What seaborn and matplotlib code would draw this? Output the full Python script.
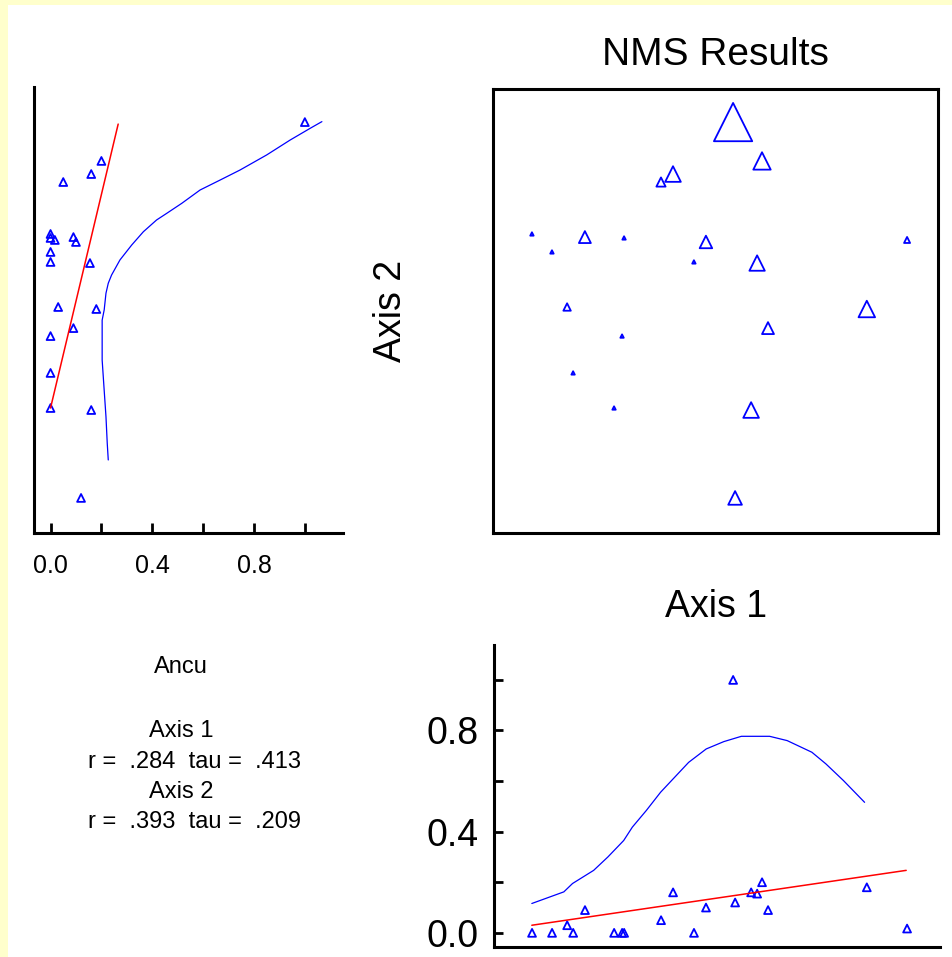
import numpy as np
import pandas as pd
import matplotlib
matplotlib.use("Agg")
import matplotlib.pyplot as plt
import seaborn as sns
from matplotlib.patches import Rectangle

# NMS scores (axis 1, axis 2) and Ancu abundance per sample unit
axis1 = [0.079, 0.209, -0.191, -0.245, -0.825, -0.587, -0.411, -0.043, 0.861, -0.735,
         -0.097, 0.187, 0.680, -0.667, 0.236, -0.420, -0.640, -0.456, 0.160, 0.088]
axis2 = [0.851, 0.676, 0.617, 0.581, 0.347, 0.333, 0.329, 0.311, 0.320, 0.266,
         0.221, 0.216, 0.009, 0.018, -0.077, -0.113, -0.279, -0.437, -0.446, -0.842]
ancu = [1.0, 0.20, 0.16, 0.05, 0.0, 0.09, 0.0, 0.10, 0.017, 0.0,
        0.0, 0.155, 0.18, 0.03, 0.09, 0.0, 0.0, 0.0, 0.16, 0.12]

# smoothed response of Ancu along axis 2 (left panel)
smooth2_axis2 = [-0.671, -0.596, -0.476, -0.341, -0.221, -0.041, 0.005, 0.080, 0.125, 0.162,
                 0.230, 0.297, 0.357, 0.410, 0.440, 0.485, 0.545, 0.590, 0.635, 0.703,
                 0.770, 0.823, 0.853]
smooth2_ancu = [0.227, 0.223, 0.218, 0.210, 0.203, 0.203, 0.211, 0.218, 0.227, 0.240,
                0.273, 0.319, 0.365, 0.417, 0.457, 0.516, 0.588, 0.667, 0.745, 0.850,
                0.942, 1.021, 1.067]
# linear fit of Ancu on axis 2
lin2_axis2 = [-0.437, 0.842]
lin2_ancu = [0.0, 0.266]

# smoothed response of Ancu along axis 1 (bottom panel)
smooth1_axis1 = [-0.826, -0.754, -0.682, -0.643, -0.548, -0.484, -0.413, -0.374, -0.311, -0.247,
                 -0.184, -0.121, -0.042, 0.037, 0.116, 0.243, 0.322, 0.433, 0.496, 0.575, 0.670]
smooth1_ancu = [0.116, 0.139, 0.162, 0.195, 0.247, 0.300, 0.365, 0.418, 0.484, 0.556,
                0.615, 0.674, 0.727, 0.756, 0.777, 0.777, 0.760, 0.714, 0.668, 0.602, 0.516]
lin1_axis1 = [-0.826, 0.857]
lin1_ancu = [0.03, 0.247]

tick_vals = [0.0, 0.2, 0.4, 0.6, 0.8, 1.0]
tick_text = ["0.0", "", "0.4", "", "0.8", ""]

sns.set_style("white")
plt.rcParams["font.family"] = ["Liberation Sans", "DejaVu Sans"]
plt.rcParams["text.color"] = "black"
plt.rcParams["xtick.color"] = "black"
plt.rcParams["ytick.color"] = "black"

W, H = 952, 957
fig = plt.figure(figsize=(W / 100, H / 100), dpi=100)
fig.patch.set_facecolor("#FFFFCC")
fig.patches.append(Rectangle((8 / W, 0), 1 - 8 / W, 1 - 5 / H, transform=fig.transFigure,
                             facecolor="white", edgecolor="none", zorder=-1))

def box(l, t, r, b):
    return [l / W, 1 - b / H, (r - l) / W, (b - t) / H]

tri = dict(marker="^", facecolor="none", edgecolor="blue", linewidth=1.3)

# left panel: Ancu vs axis 2
axl = fig.add_axes(box(34, 87, 343, 533))
sns.scatterplot(x=ancu, y=axis2, s=32, ax=axl, **tri)
sns.lineplot(x=smooth2_ancu, y=smooth2_axis2, sort=False, estimator=None, color="blue", lw=0.9, ax=axl)
sns.lineplot(x=lin2_ancu, y=lin2_axis2, sort=False, estimator=None, color="red", lw=1.1, ax=axl)
axl.set_xlim(-0.065, 1.15)
axl.set_ylim(-1.0, 1.009)
sns.despine(ax=axl)
axl.set_yticks([])
axl.set_xticks(tick_vals)
axl.set_xticklabels(tick_text)
axl.tick_params(axis="x", direction="in", length=7, width=2, pad=15, labelsize=18, bottom=True)
for s in ["left", "bottom"]:
    axl.spines[s].set_linewidth(2.2)
    axl.spines[s].set_color("black")

# main ordination panel
axm = fig.add_axes(box(493, 89, 938, 533))
sns.scatterplot(x=axis1, y=axis2, size=ancu, sizes=(6, 760), size_norm=(0, 1),
                legend=False, ax=axm, **tri)
axm.set_xlim(-1, 1)
axm.set_ylim(-1, 1)
axm.set_xticks([])
axm.set_yticks([])
for s in axm.spines.values():
    s.set_linewidth(2.2)
    s.set_color("black")
fig.text(715 / W, 1 - 65 / H, "NMS Results", ha="center", va="baseline", fontsize=28)
fig.text(401 / W, 1 - 311 / H, "Axis 2", ha="center", va="baseline", rotation=90,
         rotation_mode="anchor", fontsize=27)
fig.text(716 / W, 1 - 617 / H, "Axis 1", ha="center", va="baseline", fontsize=27)

# bottom panel: axis 1 vs Ancu
axb = fig.add_axes(box(494, 645, 940, 947))
sns.scatterplot(x=axis1, y=ancu, s=32, ax=axb, **tri)
sns.lineplot(x=smooth1_axis1, y=smooth1_ancu, sort=False, estimator=None, color="blue", lw=0.9, ax=axb)
sns.lineplot(x=lin1_axis1, y=lin1_ancu, sort=False, estimator=None, color="red", lw=1.1, ax=axb)
axb.set_xlim(-0.996, 1.009)
axb.set_ylim(-0.056, 1.138)
sns.despine(ax=axb)
axb.set_xticks([])
axb.set_yticks(tick_vals)
axb.set_yticklabels(tick_text)
axb.tick_params(axis="y", direction="in", length=6.5, width=2, pad=11, labelsize=27, left=True)
for s in ["left", "bottom"]:
    axb.spines[s].set_linewidth(2.2)
    axb.spines[s].set_color("black")

# summary text
fig.text(181 / W, 1 - 673 / H, "Ancu", ha="center", va="baseline", fontsize=17)
fig.text(181 / W, 1 - 737 / H, "Axis 1", ha="center", va="baseline", fontsize=17)
fig.text(195 / W, 1 - 768 / H, "r =  .284  tau =  .413", ha="center", va="baseline", fontsize=17)
fig.text(181 / W, 1 - 798 / H, "Axis 2", ha="center", va="baseline", fontsize=17)
fig.text(195 / W, 1 - 828 / H, "r =  .393  tau =  .209", ha="center", va="baseline", fontsize=17)

fig.savefig("out.png", dpi=100, facecolor=fig.get_facecolor())
